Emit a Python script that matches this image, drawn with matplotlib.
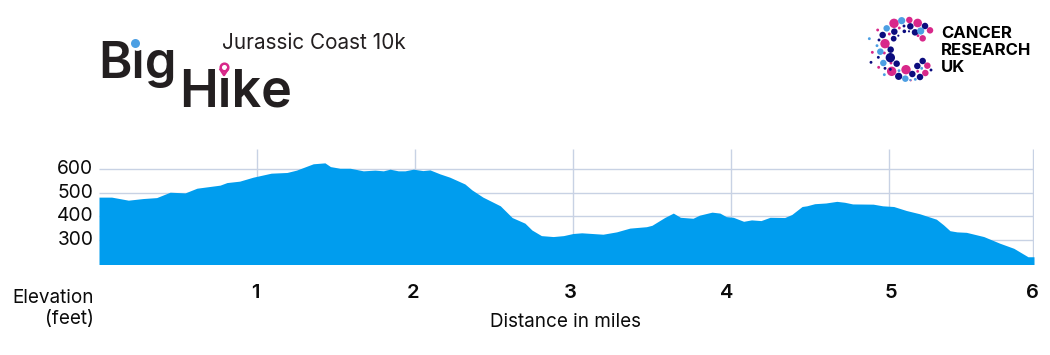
import matplotlib
matplotlib.use("Agg")
import matplotlib.pyplot as plt
from matplotlib.transforms import ScaledTranslation

plt.rcParams['font.family'] = ['Inter', 'DejaVu Sans']

miles = [0, .08, .186, .28, .365, .45, .545, .62, .766, .81, .89, .976, 1.09, 1.19, 1.25, 1.356, 1.43, 1.465, 1.525,
         1.59, 1.673, 1.747, 1.8, 1.842, 1.894, 1.937, 1.99, 2.05, 2.095, 2.158, 2.22, 2.316, 2.36, 2.43, 2.54, 2.615,
         2.696, 2.74, 2.80, 2.875, 2.94, 3.0, 3.055, 3.19, 3.276, 3.36, 3.465, 3.5, 3.58, 3.635, 3.68, 3.76, 3.80,
         3.88, 3.93, 3.97, 4.015, 4.08, 4.13, 4.19, 4.247, 4.34, 4.385, 4.45, 4.48, 4.53, 4.6, 4.67, 4.72, 4.77, 4.90,
         4.96, 5.03, 5.11, 5.195, 5.30, 5.345, 5.386, 5.43, 5.49, 5.60, 5.70, 5.79, 5.88, 5.918]
feet = [481, 481, 468, 475, 479, 502, 499, 519, 532, 543, 549, 566, 583, 586, 596, 623, 627, 611, 604,
        604, 593, 596, 593, 600, 593, 593, 600, 594, 597, 580, 566, 537, 512, 481, 444, 394,
        370, 341, 317, 313, 317, 326, 329, 323, 333, 349, 355, 361, 394, 413, 395, 391, 404,
        417, 413, 398, 395, 378, 384, 381, 395, 394, 407, 441, 444, 453, 456, 463, 459, 452, 451,
        444, 441, 424, 410, 387, 363, 338, 333, 331, 313, 285, 263, 227, 227]
y_ticks = [300, 400, 500, 600]
grid_x = [1, 2, 3, 4, 5, 5.91]
x_label_pos = [0.99, 1.985, 2.985, 3.975, 5.015, 5.905]
x_tick_labels = ['1', '2', '3', '4', '5', '6']

FILL = '#009DEE'
GRID = '#C8D2E4'
INK = '#0B0B0B'
LOGO = '#231F20'
PINK = '#D8288A'
NAVY = '#0C0C7E'
BLUE = '#4C9FE3'

W, H = 1050, 355
fig = plt.figure(figsize=(W / 100, H / 100), dpi=100, facecolor='white')

ax = fig.add_axes([99 / W, 1 - 264.5 / H, (1034 - 99) / W, (264.5 - 149) / H])
ax.set_xlim(0, 5.918)
ax.set_ylim(194, 686)
for s in ax.spines.values():
    s.set_visible(False)
ax.set_axisbelow(True)
ax.vlines(grid_x, 194, 686, color=GRID, lw=1.0, zorder=1)
ax.hlines(y_ticks, 0, 5.91, color=GRID, lw=1.0, zorder=1)
ax.fill_between(miles, 194, feet, color=FILL, lw=0, zorder=3)
ax.set_yticks(y_ticks)
ax.set_yticklabels([str(v) for v in y_ticks], fontsize=13.8, color=INK)
ax.tick_params(axis='y', length=0, pad=4)
for lab in ax.get_yticklabels():
    lab.set_transform(lab.get_transform() + ScaledTranslation(0, 2 / 100, fig.dpi_scale_trans))
ax.set_xticks(x_label_pos)
ax.set_xticklabels(x_tick_labels, fontsize=14.5, fontweight='semibold', color=INK)
ax.tick_params(axis='x', length=0, pad=14)

ov = fig.add_axes([0, 0, 1, 1], zorder=5)
ov.set_xlim(0, W)
ov.set_ylim(H, 0)
ov.axis('off')
ov.patch.set_alpha(0)

ov.text(94, 298, 'Elevation', ha='right', va='center', fontsize=13.6, color=INK)
ov.text(94, 319, '(feet)', ha='right', va='center', fontsize=13.6, color=INK)
ov.text(565, 322, 'Distance in miles', ha='center', va='center', fontsize=13.6, color=INK)

ov.text(98, 78.5, 'Big', ha='left', va='baseline', fontsize=36.5, fontweight='semibold', color=LOGO)
ov.text(179, 106.5, 'Hike', ha='left', va='baseline', fontsize=37.5, fontweight='semibold', color=LOGO)
ov.text(222, 43, 'Jurassic Coast 10k', ha='left', va='center', fontsize=14.9, color=LOGO)
ov.scatter([137], [43.5], s=85, color='white', lw=0, zorder=6)
ov.scatter([135], [42.5], s=42, color=BLUE, lw=0, zorder=7)
ov.scatter([224], [68], s=75, color='white', lw=0, zorder=6)
ov.scatter([224], [66.5], s=30, color='white', edgecolor=PINK, lw=1.8, zorder=7)
ov.plot([220.5, 224, 227.5], [69.5, 75, 69.5], color=PINK, lw=1.8, zorder=7)

for i, t in enumerate(['CANCER', 'RESEARCH', 'UK']):
    ov.text(941, 33 + i * 17.3, t, ha='left', va='center', fontsize=12, fontweight='bold', color='black')

dots_pink = [(87, 28, 13), (158, 27, 12), (133, 18, 9), (195, 49, 9), (173, 73, 9), (60, 89, 13), (80, 172, 13),
             (123, 167, 13), (187, 155, 9), (181, 177, 9), (38, 48, 4), (22, 115, 4), (58, 117, 4), (73, 60, 4),
             (103, 42, 4), (159, 65, 4), (41, 160, 4), (137, 199, 3), (158, 172, 4), (78, 147, 4), (69, 98, 3)]
dots_navy = [(180, 36, 9), (136, 37, 9), (117, 36, 4), (150, 55, 9), (88, 53, 9), (53, 63, 9), (86, 74, 8),
             (77, 107, 9), (76, 131, 13), (95, 149, 9), (157, 156, 9), (173, 141, 9), (142, 180, 9), (101, 187, 10),
             (165, 189, 9), (40, 130, 4), (18, 145, 4), (198, 168, 4), (100, 65, 3), (60, 163, 4), (76, 166, 4),
             (132, 52, 3), (118, 52, 5), (42, 78, 4)]
dots_blue = [(110, 20, 10), (65, 43, 9), (167, 51, 10), (46, 113, 9), (55, 147, 9), (121, 194, 9), (13, 74, 4),
             (36, 95, 4), (58, 182, 4), (170, 163, 4), (151, 196, 4), (102, 170, 4), (136, 198, 3)]
for dots, col in [(dots_pink, PINK), (dots_navy, NAVY), (dots_blue, BLUE)]:
    ov.scatter([865 + d[0] / 3 for d in dots], [14 + d[1] / 3 for d in dots],
               s=[(d[2] * 0.52) ** 2 for d in dots], color=col, lw=0)

fig.savefig('out.png', dpi=100)
